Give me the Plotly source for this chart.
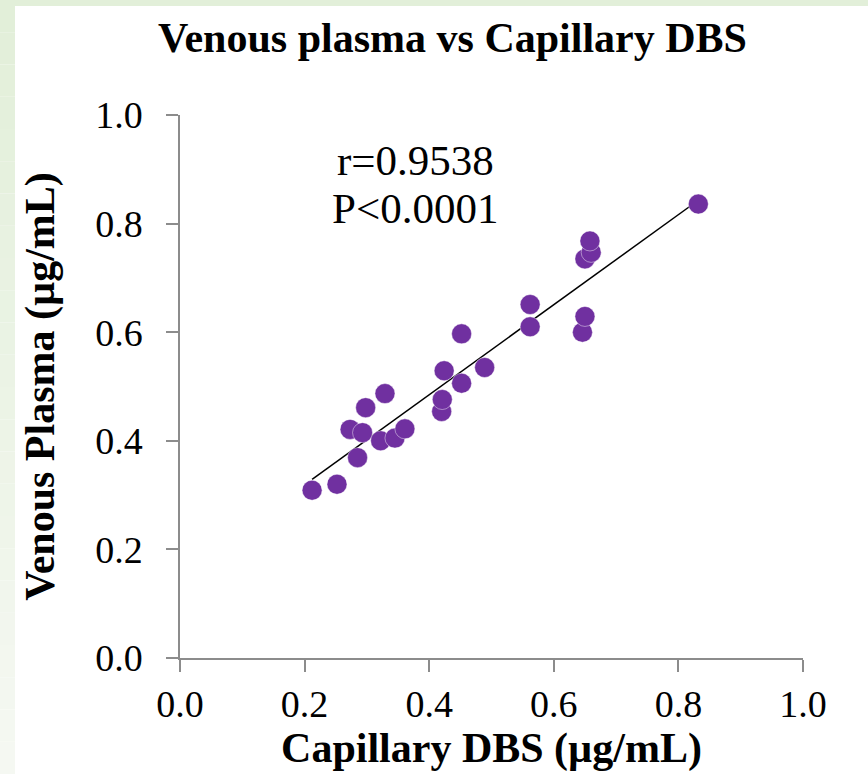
import plotly.graph_objects as go

# Data
capillary_dbs = [0.212, 0.252, 0.285, 0.273, 0.293, 0.298, 0.329, 0.322, 0.345, 0.361,
                 0.420, 0.421, 0.424, 0.452, 0.452, 0.489, 0.562, 0.562, 0.646, 0.650,
                 0.650, 0.660, 0.658, 0.832]
venous_plasma = [0.309, 0.320, 0.369, 0.421, 0.415, 0.461, 0.487, 0.400, 0.405, 0.422,
                 0.454, 0.476, 0.529, 0.506, 0.597, 0.535, 0.610, 0.651, 0.600, 0.629,
                 0.735, 0.747, 0.768, 0.836]
trend_x = [0.212, 0.832]
trend_y = [0.329, 0.843]
x_ticks = [0.0, 0.2, 0.4, 0.6, 0.8, 1.0]
y_ticks = [0.0, 0.2, 0.4, 0.6, 0.8, 1.0]
stats_lines = ["r=0.9538", "P<0.0001"]

W, H = 868, 774
L, R, T, B = 180, 65, 115, 116
PW, PH = W - L - R, H - T - B

def px(xpix):
    return (xpix - L) / PW

def py(ypix):
    return (H - B - ypix) / PH

SERIF = "Liberation Serif, Times New Roman, serif"

fig = go.Figure()
fig.add_trace(go.Scatter(
    x=trend_x, y=trend_y, mode="lines",
    line=dict(color="black", width=1.5), showlegend=False, hoverinfo="skip"))
fig.add_trace(go.Scatter(
    x=capillary_dbs, y=venous_plasma, mode="markers",
    marker=dict(size=20, color="#7030A0", line=dict(width=0.8, color="rgba(255,255,255,0.55)")),
    showlegend=False))

# green frame (light gradient on the left strip)
shapes = []
top_col = (226, 239, 217)
bot_col = (245, 248, 242)
n = 24
for i in range(n):
    f = i / (n - 1)
    c = tuple(round(top_col[k] + (bot_col[k] - top_col[k]) * f) for k in range(3))
    y0 = i * H / n
    y1 = (i + 1) * H / n
    shapes.append(dict(type="rect", xref="paper", yref="paper", layer="below",
                       x0=px(0), x1=px(15), y0=py(y1), y1=py(y0),
                       fillcolor="rgb(%d,%d,%d)" % c, line=dict(width=0)))
shapes.append(dict(type="rect", xref="paper", yref="paper", layer="below",
                   x0=px(0), x1=px(W), y0=py(6), y1=py(0),
                   fillcolor="rgb(226,239,217)", line=dict(width=0)))

annotations = [
    dict(text="<b>Venous plasma vs Capillary DBS</b>", xref="paper", yref="paper",
         x=px(452), y=py(38), showarrow=False, xanchor="center", yanchor="middle",
         font=dict(family=SERIF, size=42, color="black")),
    dict(text=stats_lines[0], xref="paper", yref="paper", x=px(415), y=py(160),
         showarrow=False, xanchor="center", yanchor="middle",
         font=dict(family=SERIF, size=43, color="black")),
    dict(text=stats_lines[1], xref="paper", yref="paper", x=px(415), y=py(208),
         showarrow=False, xanchor="center", yanchor="middle",
         font=dict(family=SERIF, size=43, color="black")),
]

axis_common = dict(
    range=[0, 1], showgrid=False, zeroline=False, showline=True,
    linecolor="#8c8c8c", linewidth=1.5, ticks="outside", ticklen=12,
    tickwidth=1.5, tickcolor="#8c8c8c", tickformat=".1f",
    tickfont=dict(family=SERIF, size=38, color="black"), automargin=False,
)

fig.update_layout(
    width=W, height=H,
    margin=dict(l=L, r=R, t=T, b=B, pad=0),
    paper_bgcolor="white", plot_bgcolor="white",
    shapes=shapes, annotations=annotations,
    xaxis=dict(**axis_common, tickvals=x_ticks,
               title=dict(text="<b>Capillary DBS (µg/mL)</b>", standoff=6,
                          font=dict(family=SERIF, size=42, color="black"))),
    yaxis=dict(**axis_common, tickvals=y_ticks, ticklabelstandoff=16,
               title=dict(text="<b>Venous Plasma (µg/mL)</b>", standoff=27,
                          font=dict(family=SERIF, size=42, color="black"))),
)

fig.write_html("out.html", config={"displayModeBar": False},
               post_script="document.body.style.margin='0';")
